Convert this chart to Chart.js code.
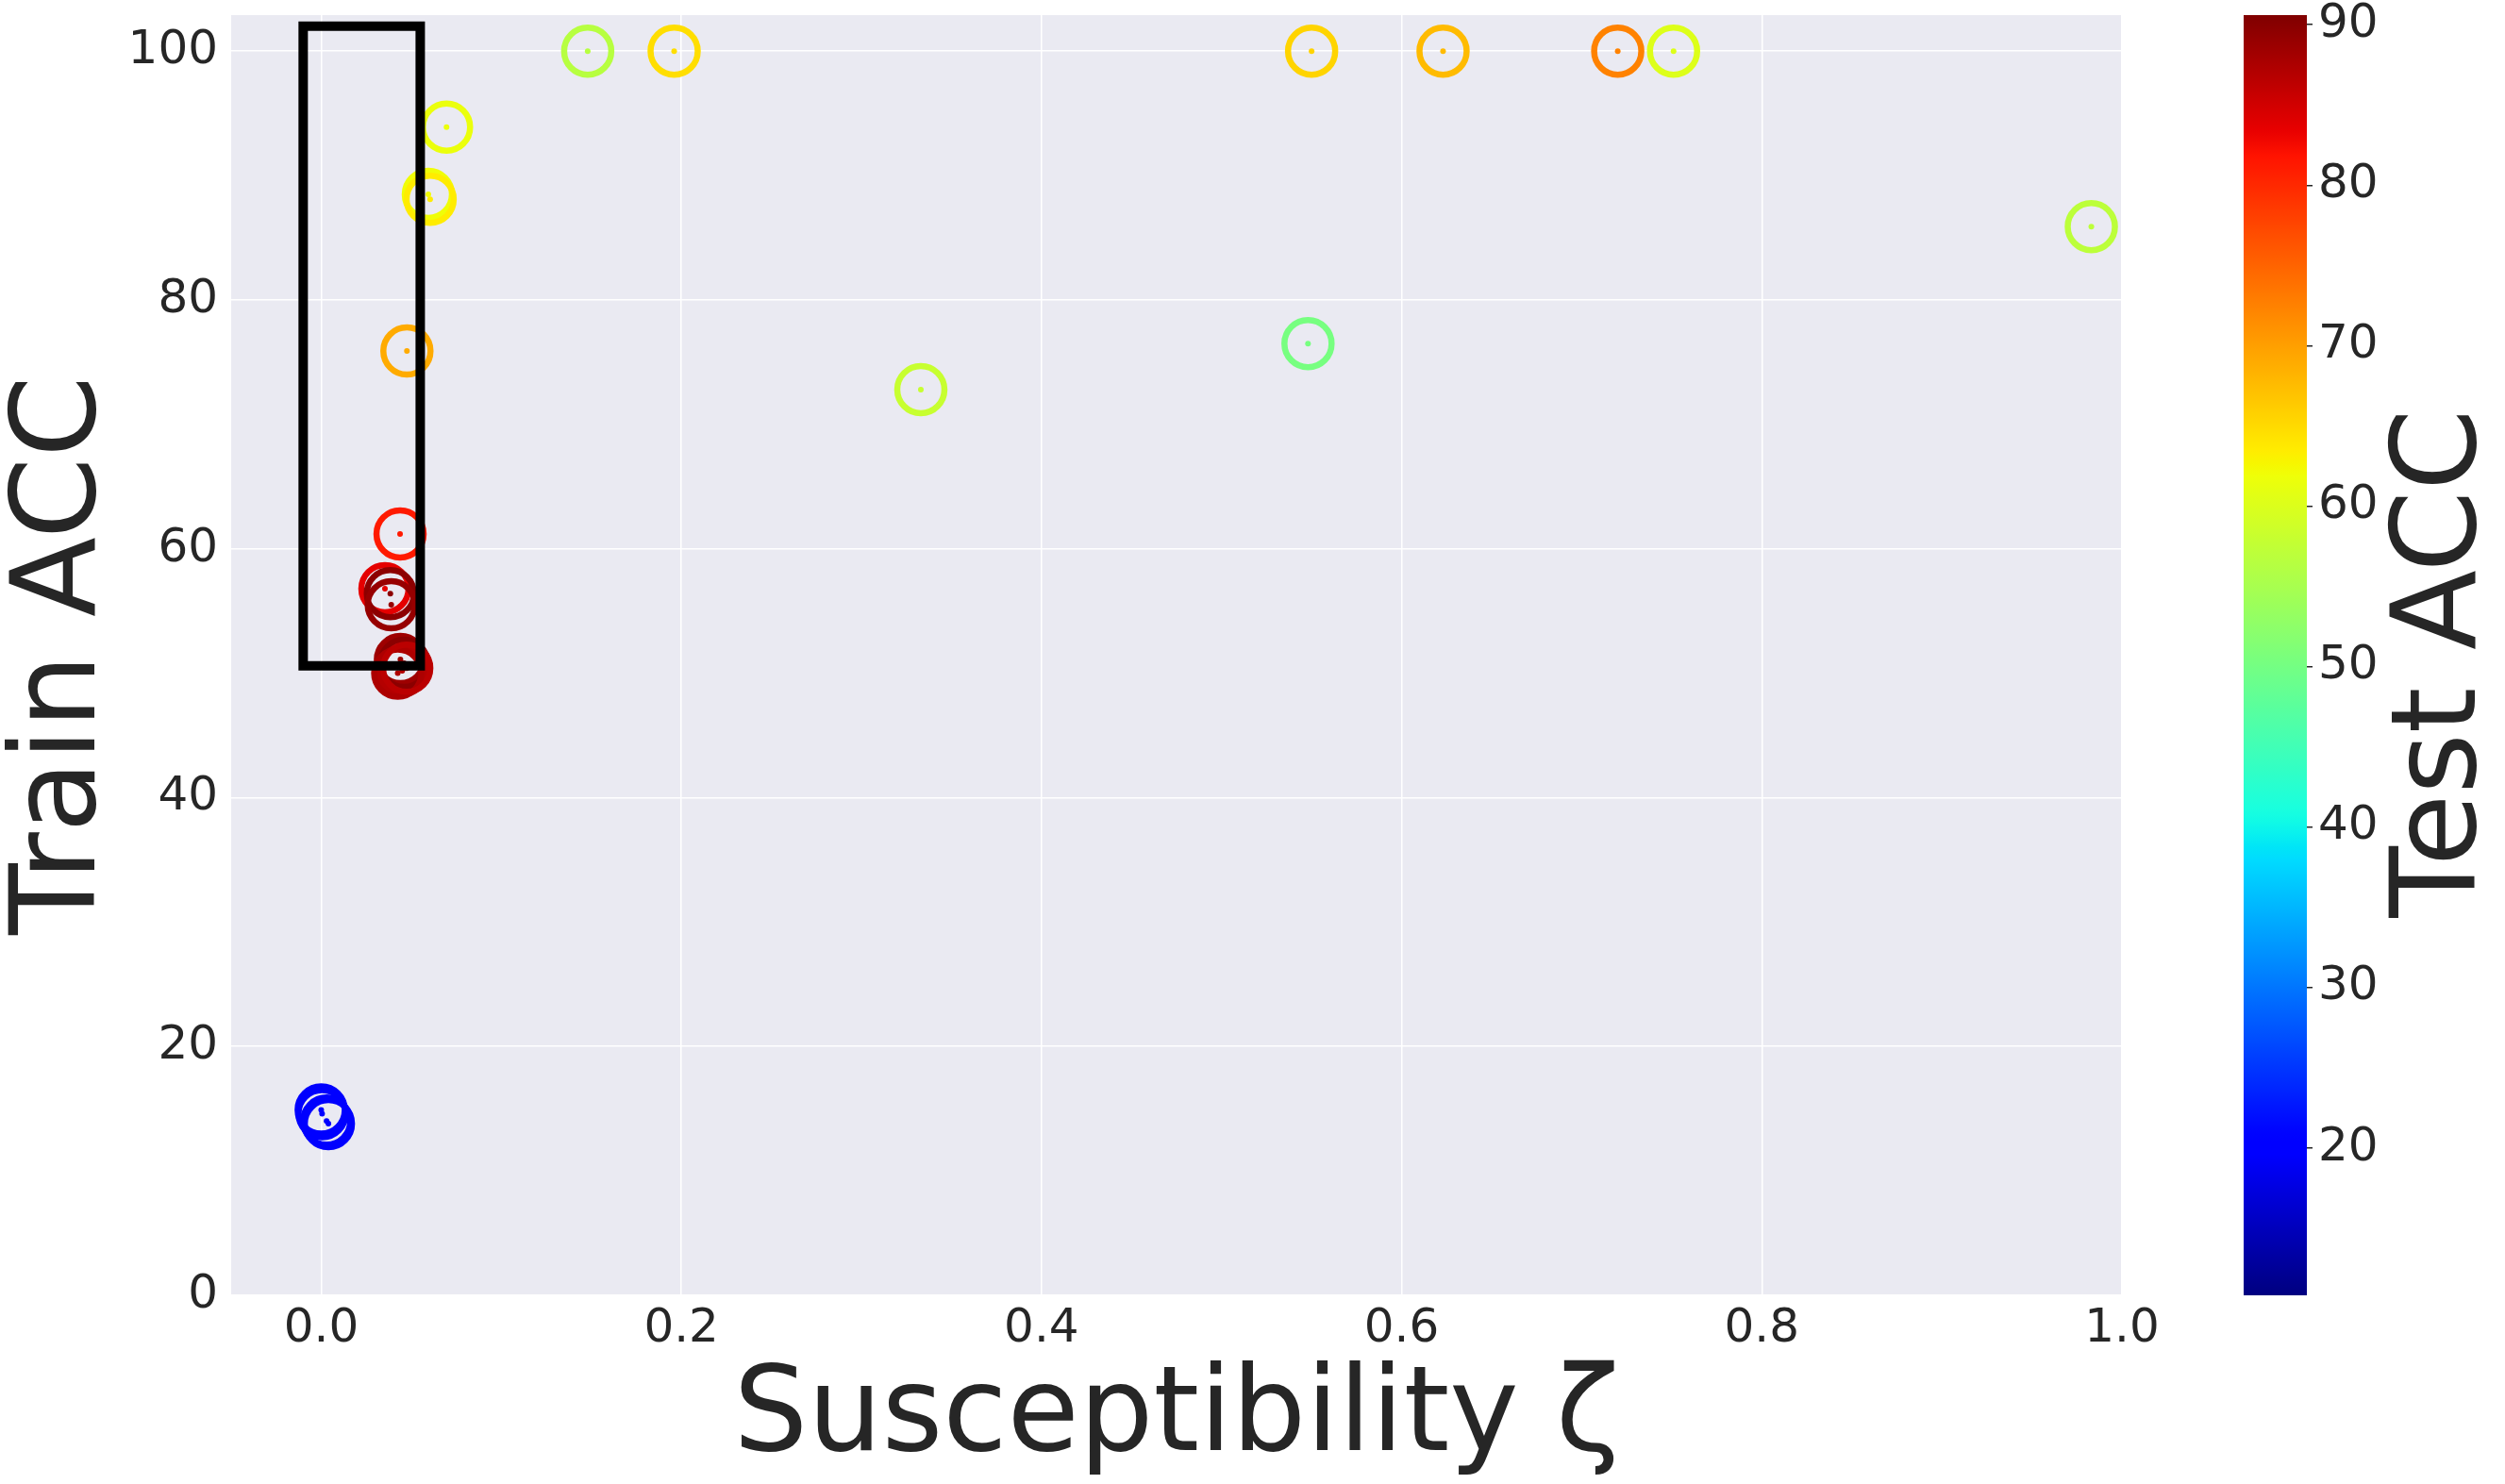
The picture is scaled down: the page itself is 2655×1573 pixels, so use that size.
<!DOCTYPE html>
<html>
<head>
<meta charset="utf-8">
<script src="https://cdn.jsdelivr.net/npm/chart.js@4.4.1/dist/chart.umd.min.js"></script>
<style>
  html, body { margin: 0; padding: 0; background: #fff; }
  #wrap { position: relative; width: 2655px; height: 1573px; }
  #main { position: absolute; left: 0; top: 0; }
  #cbar { position: absolute; left: 2360px; top: 0; }
</style>
</head>
<body>
<div id="wrap">
  <canvas id="main" width="2360" height="1573"></canvas>
  <canvas id="cbar" width="295" height="1573"></canvas>
</div>
<script>
// susceptibility (x), train accuracy (y), test accuracy (colour)
const suscept  = [0.148, 0.196, 0.550, 0.623, 0.720, 0.751, 0.0696, 0.0595, 0.0605, 0.0476, 0.0438,
                  0.0354, 0.0384, 0.0389, 0.044, 0.046, 0.045, 0.0425, 0.0475, 0.333, 0.548, 0.983,
                  0.000, 0.0005, 0.003, 0.004];
const trainAcc = [100, 100, 100, 100, 100, 100, 93.9, 88.5, 88.1, 75.9, 61.2,
                  56.8, 56.4, 55.5, 51.1, 50.8, 50.2, 50.0, 50.4, 72.8, 76.5, 85.9,
                  14.9, 14.6, 14.0, 13.8];
const testAcc  = [56.5, 64.7, 65.5, 67.6, 72.4, 60.2, 61.5, 62.0, 63.5, 69.0, 81.2,
                  83.6, 89.7, 89.0, 88.5, 89.8, 87.0, 87.5, 86.5, 58.0, 50.3, 57.0,
                  19.5, 19.8, 19.5, 19.7];

const xTicks = [0, 0.2, 0.4, 0.6, 0.8, 1.0];
const yTicks = [0, 20, 40, 60, 80, 100];
const cbarTicks = [20, 30, 40, 50, 60, 70, 80, 90];
const cbarMin = 10.8, cbarMax = 90.6;

// highlighted region
const boxX = [-0.01, 0.055, 0.055, -0.01, -0.01];
const boxY = [50.6, 50.6, 102, 102, 50.6];

const ink = '#262626';
const font = 'DejaVu Sans';

function interp(t, xs, ys) {
  for (let i = 1; i < xs.length; i++) {
    if (t <= xs[i]) {
      const f = (t - xs[i - 1]) / (xs[i] - xs[i - 1]);
      return ys[i - 1] + f * (ys[i] - ys[i - 1]);
    }
  }
  return ys[ys.length - 1];
}

// matplotlib "jet"
function jet(t) {
  t = Math.min(1, Math.max(0, t));
  const r = interp(t, [0, 0.35, 0.66, 0.89, 1], [0, 0, 1, 1, 0.5]);
  const g = interp(t, [0, 0.125, 0.375, 0.64, 0.91, 1], [0, 0, 1, 1, 0, 0]);
  const b = interp(t, [0, 0.11, 0.34, 0.65, 1], [0.5, 1, 1, 0, 0]);
  return 'rgb(' + Math.round(r * 255) + ',' + Math.round(g * 255) + ',' + Math.round(b * 255) + ')';
}

const colors = testAcc.map(v => jet((v - cbarMin) / (cbarMax - cbarMin)));
const points = suscept.map((x, i) => ({ x: x, y: trainAcc[i] }));
const boxPts = boxX.map((x, i) => ({ x: x, y: boxY[i] }));

const plotBg = {
  id: 'plotBg',
  beforeDraw(chart) {
    const { ctx, chartArea: a } = chart;
    ctx.save();
    ctx.fillStyle = '#EAEAF2';
    ctx.fillRect(a.left, a.top, a.right - a.left, a.bottom - a.top);
    ctx.restore();
  }
};

new Chart(document.getElementById('main'), {
  type: 'scatter',
  data: {
    datasets: [{
      data: boxPts,
      showLine: true,
      borderColor: '#000',
      borderWidth: 10,
      borderCapStyle: 'square',
      borderJoinStyle: 'miter',
      pointRadius: 0,
      order: 0
    }, {
      data: points,
      pointRadius: 3,
      pointBorderWidth: 0,
      pointBackgroundColor: colors,
      order: 1
    }, {
      data: points,
      pointRadius: 25,
      pointBorderWidth: 6.5,
      pointBackgroundColor: 'rgba(0,0,0,0)',
      pointBorderColor: colors,
      order: 2
    }]
  },
  options: {
    responsive: false,
    animation: false,
    events: [],
    layout: { autoPadding: false, padding: { top: 16, right: 111, left: 0, bottom: 0 } },
    plugins: { legend: { display: false }, tooltip: { enabled: false } },
    scales: {
      x: {
        type: 'linear',
        min: -0.05,
        max: 1.0,
        afterBuildTicks: s => { s.ticks = xTicks.map(v => ({ value: v })); },
        afterFit: s => { s.height = 200; s.paddingLeft = 0; s.paddingRight = 0; },
        grid: { color: '#fff', lineWidth: 1.5, drawTicks: false },
        border: { display: false },
        ticks: {
          color: ink, font: { family: font, size: 50 }, padding: 6,
          maxRotation: 0, autoSkip: false,
          callback: v => Number(v).toFixed(1)
        },
        title: {
          display: true, text: 'Susceptibility ζ', color: ink,
          font: { family: font, size: 124, lineHeight: 1.1 },
          padding: { top: 0, bottom: 0 }
        }
      },
      y: {
        min: 0,
        max: 102.9,
        afterBuildTicks: s => { s.ticks = yTicks.map(v => ({ value: v })); },
        afterFit: s => { s.width = 245; s.paddingTop = 0; s.paddingBottom = 0; },
        grid: { color: '#fff', lineWidth: 1.5, drawTicks: false },
        border: { display: false },
        ticks: {
          color: ink, font: { family: font, size: 50 }, padding: 14,
          callback: v => String(v)
        },
        title: {
          display: true, text: 'Train ACC', color: ink,
          font: { family: font, size: 124, lineHeight: 1.09 },
          padding: { top: 0, bottom: 0 }
        }
      }
    }
  },
  plugins: [plotBg]
});

const cbarTitle = {
  id: 'cbarTitle',
  afterDraw(chart) {
    const ctx = chart.ctx;
    ctx.save();
    ctx.translate(263, 703);
    ctx.rotate(-Math.PI / 2);
    ctx.font = '124px "DejaVu Sans"';
    ctx.fillStyle = ink;
    ctx.textAlign = 'center';
    ctx.textBaseline = 'alphabetic';
    ctx.fillText('Test ACC', 0, 0);
    ctx.restore();
  }
};

new Chart(document.getElementById('cbar'), {
  type: 'bar',
  data: {
    labels: [''],
    datasets: [{
      data: [[cbarMin, cbarMax]],
      barPercentage: 1,
      categoryPercentage: 1,
      borderWidth: 0,
      backgroundColor: c => {
        const a = c.chart.chartArea;
        if (!a) return 'rgba(0,0,0,0)';
        const g = c.chart.ctx.createLinearGradient(0, a.bottom, 0, a.top);
        for (let i = 0; i <= 100; i++) g.addColorStop(i / 100, jet(i / 100));
        return g;
      }
    }]
  },
  options: {
    responsive: false,
    animation: false,
    events: [],
    layout: { autoPadding: false, padding: { left: 18, top: 16, bottom: 200, right: 0 } },
    plugins: { legend: { display: false }, tooltip: { enabled: false } },
    scales: {
      x: { display: false },
      y: {
        position: 'right',
        min: cbarMin,
        max: cbarMax,
        afterBuildTicks: s => { s.ticks = cbarTicks.map(v => ({ value: v })); },
        afterFit: s => { s.width = 210; s.paddingTop = 0; s.paddingBottom = 0; },
        grid: { drawOnChartArea: false, drawTicks: true, tickLength: 6, color: ink, lineWidth: 1.5 },
        border: { display: false },
        ticks: { color: ink, font: { family: font, size: 50 }, padding: 6, callback: v => String(v) }
      }
    }
  },
  plugins: [cbarTitle]
});
</script>
</body>
</html>
